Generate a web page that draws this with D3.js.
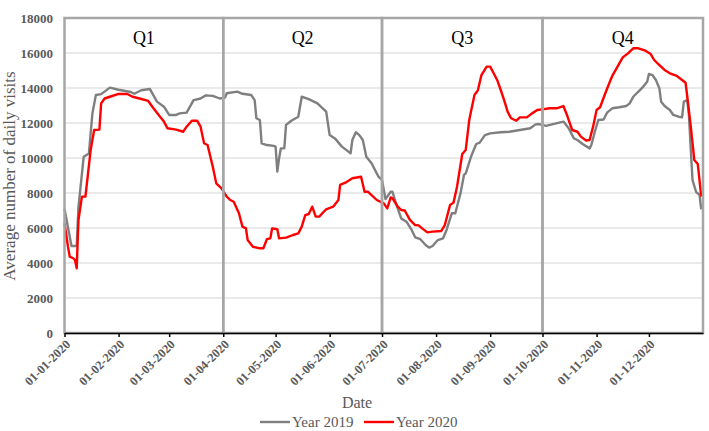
<!DOCTYPE html>
<html>
<head>
<meta charset="utf-8">
<script src="https://cdn.jsdelivr.net/npm/d3@7"></script>
<style>
  body { margin: 0; background: #fff; }
  svg text { font-family: "Liberation Serif", "DejaVu Serif", serif !important; }
</style>
</head>
<body>
<div id="viz"></div>
<script>
// data: day of year 2020 (0 = 1 Jan) and visits
var days2019 = [0, 4, 7, 8, 11, 14, 16, 18, 21, 26, 31, 38, 40, 44, 49, 53, 57, 60, 64, 66, 70, 74, 78, 81, 85, 89, 92,
  93, 99, 102, 107, 109, 110, 112, 113, 116, 120, 121, 122, 123, 124, 126, 127, 130, 134, 136, 140, 145, 148, 150,
  152, 155, 159, 164, 165, 167, 169, 171, 173, 176, 180, 182, 184, 187, 188, 190, 193, 196, 199, 201, 204, 207, 209,
  211, 214, 217, 219, 222, 224, 227, 229, 230, 233, 236, 238, 241, 244, 250, 255, 261, 267, 270, 272, 276, 280, 286,
  289, 292, 294, 297, 301, 302, 304, 306, 309, 311, 314, 318, 322, 324, 326, 330, 332, 334, 335, 337, 339, 341, 342,
  344, 347, 349, 352, 354, 355, 357, 358, 359, 360, 362, 364, 365];
var visits2019 = [7100, 4970, 4970, 7200, 10070, 10260, 12550, 13600, 13650, 14020, 13900, 13770, 13670, 13870, 13940,
  13220, 12930, 12460, 12460, 12550, 12590, 13310, 13400, 13580, 13550, 13400, 13450,
  13700, 13790, 13670, 13600, 13310, 12270, 12170, 10840, 10740, 10690, 10650, 9220, 9980, 10550, 10550, 11890, 12130,
  12360, 13500, 13360, 13120, 12840, 12650,
  11310, 11120, 10650, 10270, 11030, 11470, 11310, 11030, 10070, 9700, 8930, 8740, 7650, 8070, 8070, 7410, 6550, 6360,
  5890, 5470, 5360, 5030, 4880,
  4970, 5310, 5410, 5890, 6840, 6840, 7980, 9030, 9120, 10070, 10800, 10880, 11310, 11410, 11470, 11500, 11600, 11700,
  11920, 11940, 11840, 11940, 12080,
  11700, 11120, 11030, 10800, 10550, 10740, 11500, 12170, 12200, 12590, 12840, 12900, 12970, 13120, 13500, 13890,
  14110, 14360, 14800, 14740, 14460, 13980, 13220,
  12970, 12740, 12460, 12360, 12320, 13220, 13310, 12360, 10460, 8740, 8070, 7890, 7070];

var days2020 = [0, 2, 3, 5, 6, 7, 8, 10, 12, 15, 17, 20, 21, 23, 26, 31, 36, 39, 43, 48, 51, 54, 57, 59, 64, 68, 70, 73,
  76, 78, 80, 82, 85, 87, 90, 93, 95, 97, 100, 102, 104, 105, 108, 112, 114, 116, 118, 119, 122, 123, 127, 131, 134,
  136, 138, 140, 142, 144, 146, 150, 154, 157, 158, 161, 165, 170, 172, 174, 179, 183, 185, 187, 188, 191, 193, 195,
  198, 201, 203, 205, 208, 211, 216, 218, 221, 223, 225, 228, 230, 232, 235, 237, 239, 242, 244, 246, 248, 250, 252,
  254, 256, 259, 261, 265, 268, 271, 274, 278, 282, 286, 288, 291, 294, 296, 299, 301, 303, 305, 307, 310, 313, 314,
  317, 320, 323, 326, 329, 333, 336, 338, 341, 344, 347, 351, 354, 356, 357, 359, 361, 363, 365];
var visits2020 = [6270, 4930, 4360, 4270, 4170, 3700, 6460, 7790, 7800, 10460, 11600, 11620, 13120, 13400, 13500, 13660,
  13660, 13500, 13400, 13260, 12840, 12460, 12080, 11700, 11620, 11500, 11790, 12130,
  12130, 11790, 10840, 10740, 9500, 8550, 8270, 7790, 7600, 7500, 6840, 6080, 5980, 5310, 4930, 4840, 4840, 5360, 5410,
  5980, 5930, 5410, 5450, 5600, 5690,
  6080, 6740, 6800, 7220, 6650, 6650, 7070, 7220, 7600, 8460, 8590, 8840, 8930, 8070, 8070, 7600, 7410, 7120, 7750, 7700,
  7220, 7030, 7000,
  6460, 6170, 6150, 5980, 5750, 5790, 5830, 6170, 7310, 7450, 8360, 10230, 10460, 12170, 13600, 13880, 14740, 15220,
  15220, 14840, 14460, 13900, 13310,
  12650, 12270, 12130, 12320, 12320, 12550, 12740, 12780, 12840, 12840, 12970, 12460, 11600, 11500, 11220, 11000, 11030,
  11790, 12740, 12900, 13700, 14460, 14690,
  15220, 15750, 15980, 16270, 16270, 16130, 15940, 15600, 15310, 15030, 14840, 14690, 14460, 14300, 13500, 11790, 9890,
  9660, 7790];

var monthTicks = ["2020-01-01", "2020-02-01", "2020-03-01", "2020-04-01", "2020-05-01", "2020-06-01",
  "2020-07-01", "2020-08-01", "2020-09-01", "2020-10-01", "2020-11-01", "2020-12-01"];
var quarterStarts = ["2020-01-01", "2020-04-01", "2020-07-01", "2020-10-01", "2021-01-01"];
var quarterNames = ["Q1", "Q2", "Q3", "Q4"];
var yTicks = [0, 2000, 4000, 6000, 8000, 10000, 12000, 14000, 16000, 18000];

var W = 709, H = 431;
var parse = d3.timeParse("%Y-%m-%d");
var fmt = d3.timeFormat("%d-%m-%Y");
var start = parse("2020-01-01");

var x = d3.scaleTime().domain([start, parse("2021-01-01")]).range([64.5, 703]);
var y = d3.scaleLinear().domain([0, 18000]).range([333, 18]);

var svg = d3.select("#viz").append("svg").attr("width", W).attr("height", H);

// horizontal grid
svg.append("g").selectAll("line").data(yTicks.slice(1)).enter().append("line")
  .attr("x1", x.range()[0]).attr("x2", x.range()[1])
  .attr("y1", function (d) { return y(d); }).attr("y2", function (d) { return y(d); })
  .style("stroke", "#e3e3e3").style("stroke-width", 1.3);

// y tick labels
svg.append("g").selectAll("text").data(yTicks).enter().append("text")
  .attr("x", 53).attr("y", function (d) { return y(d); }).attr("dy", "0.35em")
  .attr("text-anchor", "end")
  .style("font-size", "13px").style("font-weight", "bold").style("fill", "#595959")
  .text(function (d) { return d; });

// lines
function series(days, vals) {
  return days.map(function (d, i) { return { date: d3.timeDay.offset(start, d), v: vals[i] }; });
}
var line = d3.line().x(function (d) { return x(d.date); }).y(function (d) { return y(d.v); });

svg.append("path").datum(series(days2019, visits2019)).attr("d", line)
  .style("fill", "none").style("stroke", "#7f7f7f").style("stroke-width", 2.4).style("stroke-linejoin", "round");
svg.append("path").datum(series(days2020, visits2020)).attr("d", line)
  .style("fill", "none").style("stroke", "#ff0000").style("stroke-width", 2.4).style("stroke-linejoin", "round");

// quarter boxes
var qs = quarterStarts.map(parse);
svg.append("g").selectAll("rect").data(quarterNames).enter().append("rect")
  .attr("x", function (d, i) { return x(qs[i]); })
  .attr("y", y(18000))
  .attr("width", function (d, i) { return x(qs[i + 1]) - x(qs[i]); })
  .attr("height", y(0) - y(18000))
  .style("fill", "none").style("stroke", "#a6a6a6").style("stroke-width", 2.5);

svg.append("g").selectAll("text").data(quarterNames).enter().append("text")
  .attr("x", function (d, i) { return (x(qs[i]) + x(qs[i + 1])) / 2; })
  .attr("y", 44)
  .attr("text-anchor", "middle")
  .style("font-size", "18px").style("fill", "#000")
  .text(function (d) { return d; });

// x axis
var xAxis = d3.axisBottom(x).tickValues(monthTicks.map(parse)).tickFormat(fmt).tickSize(4).tickSizeOuter(0);
var gx = svg.append("g").attr("transform", "translate(0," + y(0) + ")").call(xAxis);
gx.select(".domain").style("stroke", "#000").style("stroke-width", 1.5);
gx.selectAll(".tick line").style("stroke", "#000").style("stroke-width", 1.5);
gx.selectAll(".tick text")
  .attr("text-anchor", "end")
  .attr("transform", "translate(3,9) rotate(-45)")
  .attr("dy", "0.35em").attr("y", 0).attr("x", 0)
  .style("font-size", "12.5px").style("font-weight", "bold").style("fill", "#595959");

// axis titles
svg.append("text").attr("x", 357).attr("y", 408).attr("text-anchor", "middle")
  .style("font-size", "16px").style("fill", "#595959").text("Date");
svg.append("text").attr("transform", "translate(15,176) rotate(-90)").attr("text-anchor", "middle")
  .style("font-size", "17px").style("fill", "#595959").text("Average number of daily visits");

// legend
var legend = [{ name: "Year 2019", color: "#7f7f7f", x: 260 }, { name: "Year 2020", color: "#ff0000", x: 364 }];
var lg = svg.append("g").selectAll("g").data(legend).enter().append("g");
lg.append("line").attr("x1", function (d) { return d.x; }).attr("x2", function (d) { return d.x + 30; })
  .attr("y1", 422).attr("y2", 422)
  .style("stroke", function (d) { return d.color; }).style("stroke-width", 2.4);
lg.append("text").attr("x", function (d) { return d.x + 32; }).attr("y", 427)
  .style("font-size", "15px").style("fill", "#595959").text(function (d) { return d.name; });
</script>
</body>
</html>
